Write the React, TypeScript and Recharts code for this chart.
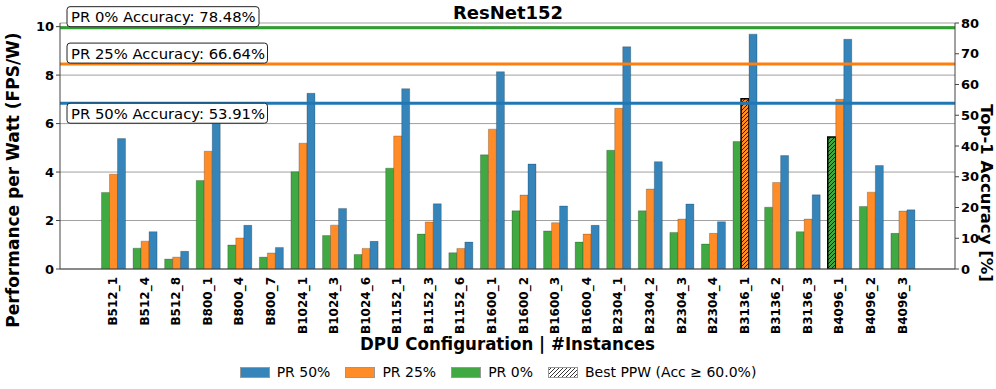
import {
  BarChart,
  Bar,
  Cell,
  XAxis,
  YAxis,
  CartesianGrid,
  ReferenceLine,
  Legend,
} from "recharts";

const categories = [
  "B512_1", "B512_4", "B512_8", "B800_1", "B800_4", "B800_7",
  "B1024_1", "B1024_3", "B1024_6", "B1152_1", "B1152_3", "B1152_6",
  "B1600_1", "B1600_2", "B1600_3", "B1600_4", "B2304_1", "B2304_2",
  "B2304_3", "B2304_4", "B3136_1", "B3136_2", "B3136_3", "B4096_1",
  "B4096_2", "B4096_3",
];

// performance per watt (FPS/W) per pruning ratio
const pr0 = [
  3.16, 0.86, 0.41, 3.65, 0.99, 0.49, 4.01, 1.38, 0.6, 4.16, 1.44, 0.67, 4.71,
  2.4, 1.57, 1.11, 4.9, 2.4, 1.51, 1.03, 5.26, 2.55, 1.54, 5.45, 2.58, 1.47,
];
const pr25 = [
  3.91, 1.15, 0.49, 4.86, 1.28, 0.66, 5.19, 1.81, 0.85, 5.49, 1.94, 0.85, 5.77,
  3.05, 1.91, 1.44, 6.63, 3.3, 2.06, 1.47, 7.02, 3.57, 2.06, 7.0, 3.17, 2.39,
];
const pr50 = [
  5.38, 1.54, 0.73, 6.3, 1.8, 0.89, 7.25, 2.5, 1.14, 7.44, 2.69, 1.11, 8.14,
  4.33, 2.6, 1.8, 9.17, 4.43, 2.68, 1.95, 9.69, 4.68, 3.06, 9.48, 4.27, 2.44,
];

// best PPW config per series (accuracy >= 60%)
const bestPr0 = "B4096_1";
const bestPr25 = "B3136_1";

// top-1 accuracy of each pruned model
const accuracyLabels = ["PR 0%", "PR 25%", "PR 50%"];
const accuracyValues = [78.48, 66.64, 53.91];

const ppwTicks = [0, 2, 4, 6, 8, 10];
const accTicks = [0, 10, 20, 30, 40, 50, 60, 70, 80];

const legendLabels = ["PR 50%", "PR 25%", "PR 0%", "Best PPW (Acc \u2265 60.0%)"];

const chartData = categories.map((name, i) => ({
  name,
  pr0: pr0[i],
  pr25: pr25[i],
  pr50: pr50[i],
}));

const FONT = "'DejaVu Sans', sans-serif";
const GREEN = "#2ca02c";
const ORANGE = "#ff7f0e";
const BLUE = "#1f77b4";
const GREEN_FILL = "#41a941";
const ORANGE_FILL = "#ff8c26";
const BLUE_FILL = "#3585bb";
const AXIS = "#444";

const series = [
  { key: "pr0", fill: GREEN_FILL, best: bestPr0, hatch: "hatch-green" },
  { key: "pr25", fill: ORANGE_FILL, best: bestPr25, hatch: "hatch-orange" },
  { key: "pr50", fill: BLUE_FILL, best: "", hatch: "" },
];

const lineColors = [GREEN, ORANGE, BLUE];
// annotation box offset relative to its line
const boxOffsets = [-21, -21, 0];
const legendSwatches = [BLUE_FILL, ORANGE_FILL, GREEN_FILL, "url(#hatch-white)"];

function HatchDefs() {
  const fills: [string, string][] = [
    ["hatch-green", GREEN_FILL],
    ["hatch-orange", ORANGE_FILL],
    ["hatch-white", "#fff"],
  ];
  return (
    <svg width={0} height={0} style={{ position: "absolute" }}>
      <defs>
        {fills.map(([id, c]) => (
          <pattern key={id} id={id} patternUnits="userSpaceOnUse" width={4} height={4}>
            <rect width={4} height={4} fill={c} />
            <path d="M-1,1 l2,-2 M0,4 l4,-4 M3,5 l2,-2" stroke="#000" strokeWidth={0.8} />
          </pattern>
        ))}
      </defs>
    </svg>
  );
}

function CategoryTick(props: any) {
  const { x, y, payload } = props;
  return (
    <text
      transform={`translate(${x},${y}) rotate(-90)`}
      textAnchor="end"
      dy="0.36em"
      fontFamily={FONT}
      fontWeight="bold"
      fontSize={12}
      fill="#000"
    >
      {payload.value}
    </text>
  );
}

function makeAccLabel(i: number) {
  return (props: any) => {
    const vb = props.viewBox || {};
    const text = `${accuracyLabels[i]} Accuracy: ${accuracyValues[i].toFixed(2)}%`;
    const w = text.length * 8.5 + 5;
    const bx = vb.x + 7;
    const by = vb.y + boxOffsets[i];
    return (
      <g>
        <rect x={bx} y={by} width={w} height={20} rx={3} fill="#fff" stroke="#222" strokeWidth={1} />
        <text x={bx + 4} y={by + 15.5} fontFamily={FONT} fontSize={14.8} fill="#000">
          {text}
        </text>
      </g>
    );
  };
}

function LegendContent() {
  return (
    <div
      style={{
        height: 34,
        display: "flex",
        alignItems: "center",
        justifyContent: "center",
        fontFamily: FONT,
        fontSize: 14,
        color: "#000",
      }}
    >
      {legendLabels.map((label, i) => (
        <div key={label} style={{ display: "flex", alignItems: "center", marginLeft: i ? 15 : 0 }}>
          <svg width={30} height={11}>
            <rect x={0.5} y={0.5} width={29} height={10} fill={legendSwatches[i]} stroke="#999" strokeWidth={1} />
          </svg>
          <span style={{ marginLeft: 7 }}>{label}</span>
        </div>
      ))}
    </div>
  );
}

export default function App() {
  return (
    <div style={{ position: "absolute", left: 0, top: 0, width: 996, height: 389, background: "#fff" }}>
      <HatchDefs />
      <BarChart
        width={996}
        height={389}
        data={chartData}
        margin={{ top: 23, right: 0, bottom: 0, left: 0 }}
        barCategoryGap={4.5}
        barGap={0}
      >
        <CartesianGrid vertical={false} stroke="#a0a0a0" strokeWidth={1} />
        <XAxis
          dataKey="name"
          type="category"
          height={86}
          padding={{ left: 37, right: 37 }}
          interval={0}
          tickLine={false}
          tickSize={6}
          tick={<CategoryTick />}
          axisLine={{ stroke: AXIS, strokeWidth: 1 }}
          label={(p: any) => {
            const vb = p.viewBox;
            return (
              <text
                x={vb.x + vb.width / 2}
                y={vb.y + vb.height - 5}
                textAnchor="middle"
                fontFamily="'DejaVu Sans Condensed', 'DejaVu Sans', sans-serif"
                fontStretch="condensed"
                fontWeight="bold"
                fontSize={18.5}
                fill="#000"
              >
                DPU Configuration | #Instances
              </text>
            );
          }}
        />
        <XAxis
          xAxisId="top"
          dataKey="name"
          orientation="top"
          height={0}
          tick={false}
          tickLine={false}
          axisLine={{ stroke: AXIS, strokeWidth: 1 }}
        />
        <YAxis
          width={60}
          domain={[0, 10.15]}
          allowDataOverflow
          ticks={ppwTicks}
          tickSize={4}
          tickLine={{ stroke: AXIS }}
          axisLine={{ stroke: AXIS, strokeWidth: 1 }}
          tick={{ fontFamily: FONT, fontWeight: "bold", fontSize: 13, fill: "#000" }}
        />
        <YAxis
          yAxisId="acc"
          orientation="right"
          width={41}
          type="number"
          domain={[0, 80]}
          allowDataOverflow
          ticks={accTicks}
          tickSize={4}
          tickLine={{ stroke: AXIS }}
          axisLine={{ stroke: AXIS, strokeWidth: 1 }}
          tick={{ fontFamily: FONT, fontWeight: "bold", fontSize: 13, fill: "#000" }}
        />
        {series.map((s) => (
          <Bar
            key={s.key}
            dataKey={s.key}
            fill={s.fill}
            stroke="rgba(0,0,0,0.22)"
            strokeWidth={1}
            isAnimationActive={false}
          >
            {chartData.map((d) =>
              d.name === s.best ? (
                <Cell key={d.name} fill={`url(#${s.hatch})`} stroke="#000" strokeWidth={1.5} />
              ) : (
                <Cell key={d.name} fill={s.fill} />
              )
            )}
          </Bar>
        ))}
        {accuracyValues.map((v, i) => (
          <ReferenceLine
            key={accuracyLabels[i]}
            yAxisId="acc"
            y={v}
            stroke={lineColors[i]}
            strokeWidth={3}
            ifOverflow="visible"
            label={makeAccLabel(i)}
          />
        ))}
        <Legend verticalAlign="bottom" content={<LegendContent />} />
      </BarChart>
      <svg
        width={996}
        height={389}
        style={{ position: "absolute", left: 0, top: 0, pointerEvents: "none" }}
      >
        <text x={508} y={19} textAnchor="middle" fontFamily={FONT} fontWeight="bold" fontSize={18} fill="#000">
          ResNet152
        </text>
        <text
          transform="translate(13,180) rotate(-90)"
          textAnchor="middle"
          dy="0.36em"
          fontFamily={FONT}
          fontWeight="bold"
          fontSize={17}
          fill="#000"
        >
          Performance per Watt (FPS/W)
        </text>
        <text
          transform="translate(987,193) rotate(90)"
          textAnchor="middle"
          dy="0.36em"
          fontFamily={FONT}
          fontWeight="bold"
          fontSize={16.5}
          fill="#000"
        >
          Top-1 Accuracy [%]
        </text>
      </svg>
    </div>
  );
}
